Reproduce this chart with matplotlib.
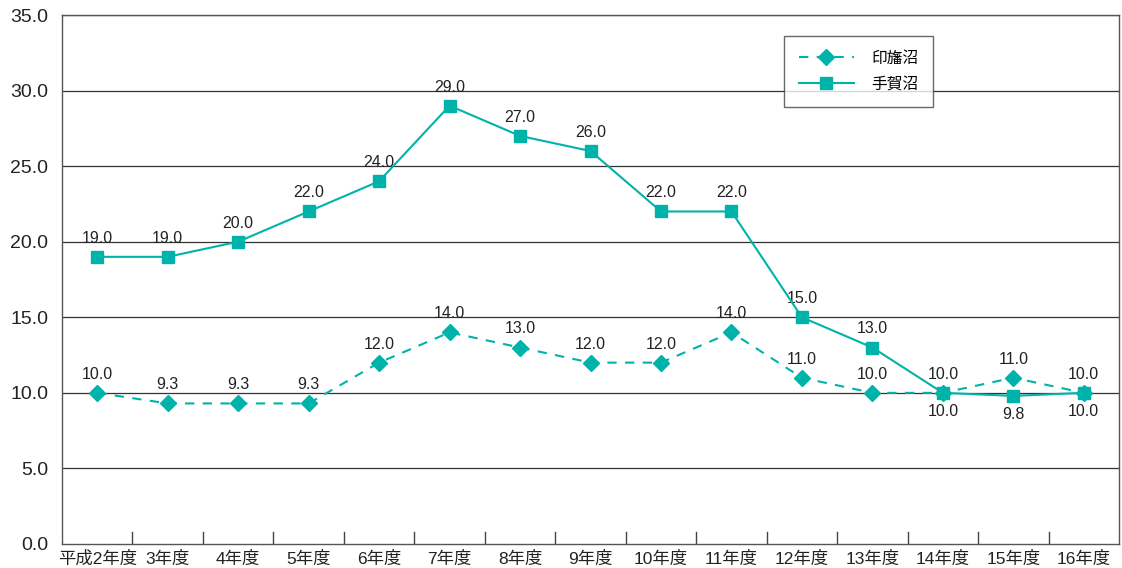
import matplotlib
matplotlib.use("Agg")
import matplotlib.pyplot as plt

categories = ["平成2年度", "3年度", "4年度", "5年度", "6年度", "7年度", "8年度", "9年度",
              "10年度", "11年度", "12年度", "13年度", "14年度", "15年度", "16年度"]
inba = [10.0, 9.3, 9.3, 9.3, 12.0, 14.0, 13.0, 12.0, 12.0, 14.0, 11.0, 10.0, 10.0, 11.0, 10.0]
teganuma = [19.0, 19.0, 20.0, 22.0, 24.0, 29.0, 27.0, 26.0, 22.0, 22.0, 15.0, 13.0, 10.0, 9.8, 10.0]
teganuma_below = [False]*12 + [True, True, True]
yticks = [0, 5, 10, 15, 20, 25, 30, 35]

color = "#00b3aa"
plt.rcParams['font.family'] = ['Liberation Sans', 'Noto Sans CJK JP']

fig = plt.figure(figsize=(11.22, 5.68), dpi=100)
ax = fig.add_axes([62/1122, 1-544/568, (1119-62)/1122, (544-15)/568])

x = list(range(len(categories)))
ax.plot(x, inba, color=color, linestyle=(0, (4.5, 4)), lw=1.5, marker='D', ms=8.5,
        markeredgecolor=color, markerfacecolor=color, label="印旛沼", zorder=4)
ax.plot(x, teganuma, color=color, linestyle='-', lw=1.5, marker='s', ms=8.5,
        markeredgecolor=color, markerfacecolor=color, label="手賀沼", zorder=4)

lab_fs = 11.5
for xi, v in zip(x, inba):
    ax.annotate(f"{v:.1f}", (xi, v), xytext=(0, 8), textcoords='offset points',
                ha='center', va='bottom', fontsize=lab_fs, color='#222222')
for xi, v, b in zip(x, teganuma, teganuma_below):
    if b:
        ax.annotate(f"{v:.1f}", (xi, v), xytext=(0, -8), textcoords='offset points',
                    ha='center', va='top', fontsize=lab_fs, color='#222222')
    else:
        ax.annotate(f"{v:.1f}", (xi, v), xytext=(0, 8), textcoords='offset points',
                    ha='center', va='bottom', fontsize=lab_fs, color='#222222')

ax.set_xlim(-0.5, len(categories) - 0.5)
ax.set_ylim(0, 35)
ax.set_yticks(yticks)
ax.set_yticklabels([f"{v:.1f}" for v in yticks], fontsize=14, color='#222222')
ax.tick_params(axis='y', length=0, pad=10)
for v in yticks[1:]:
    ax.axhline(v, color='#333333', lw=0.9, zorder=1)

ax.set_xticks(x)
ax.set_xticklabels(categories, fontsize=12.5, color='#222222')
ax.tick_params(axis='x', length=0, pad=5)
for b in range(1, len(categories)):
    ax.plot([b - 0.5, b - 0.5], [0, 0.8], color='#444444', lw=1.0, zorder=2)

for s in ax.spines.values():
    s.set_color('#555555')
    s.set_linewidth(1.0)

leg = ax.legend(loc='upper left', bbox_to_anchor=((784-62)/1057, 1-(36-15)/529),
                fontsize=11.3, frameon=True, fancybox=False, edgecolor='#444444',
                handlelength=3.5, borderpad=0.95, labelspacing=0.7, handletextpad=1.1,
                borderaxespad=0)
leg.get_frame().set_linewidth(1.0)

fig.savefig("out.png", dpi=100)
